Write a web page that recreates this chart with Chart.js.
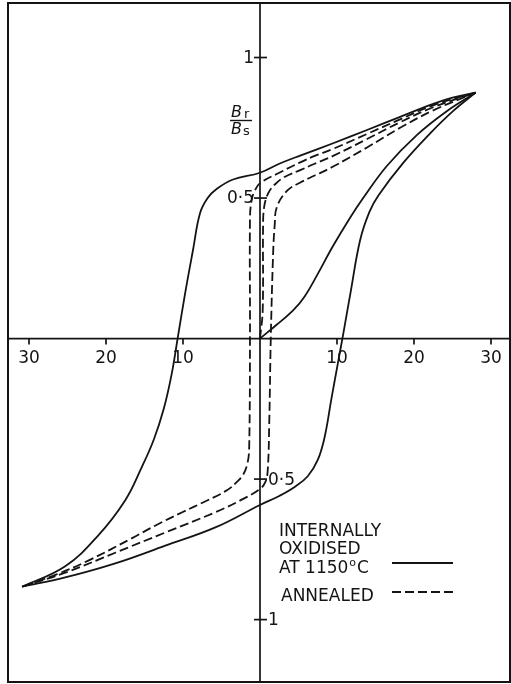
<!DOCTYPE html>
<html>
<head>
<meta charset="utf-8">
<script src="https://cdn.jsdelivr.net/npm/chart.js@4.4.1/dist/chart.umd.min.js"></script>
<style>
  html, body { margin: 0; padding: 0; background: #fff; }
  #wrap { width: 511px; height: 684px; }
</style>
</head>
<body>
<div id="wrap"><canvas id="loopChart"></canvas></div>
<script>
// internally oxidised at 1150 C (solid) - field H on x, Br/Bs on y
const oxUpperX = [28.0, 25.0, 22.5, 18.2, 13.9, 9.5, 5.3, 2.5, 0, -3.5, -5.6, -6.8, -7.8, -8.7, -9.7, -10.7, -11.5, -12.5, -13.8, -15.4, -17.5, -21.0, -25.3, -30.9];
const oxUpperY = [0.875, 0.857, 0.835, 0.789, 0.742, 0.695, 0.652, 0.622, 0.59, 0.566, 0.533, 0.5, 0.445, 0.315, 0.165, 0, -0.13, -0.25, -0.36, -0.46, -0.575, -0.70, -0.81, -0.883];

const oxLowerX = [-30.9, -25.3, -18.8, -12.3, -5.8, 0, 2.5, 4.5, 6.2, 7.5, 8.4, 9.3, 10.1, 10.9, 11.8, 13.0, 14.2, 15.4, 18.6, 22.1, 25.1, 28.0];
const oxLowerY = [-0.883, -0.85, -0.80, -0.737, -0.672, -0.592, -0.56, -0.528, -0.49, -0.432, -0.35, -0.21, -0.09, 0.03, 0.17, 0.35, 0.45, 0.51, 0.625, 0.73, 0.81, 0.875];

const oxInitialX = [0, 2.2, 4.3, 5.8, 7.4, 9.5, 11.7, 13.4, 16.5, 20.4, 24.3, 28.0];
const oxInitialY = [0, 0.05, 0.10, 0.15, 0.225, 0.33, 0.43, 0.50, 0.615, 0.725, 0.81, 0.875];

// annealed (dashed)
const anUpperX = [28.0, 22.5, 18.2, 13.9, 9.5, 7.1, 5.3, 2.5, 0, -0.7, -1.1, -1.3, -1.3, -1.4, -1.6, -2.2, -3.0, -4.3, -7.0, -10.1, -13.5, -16.6, -22.3, -26.5, -30.9];
const anUpperY = [0.875, 0.83, 0.78, 0.728, 0.675, 0.65, 0.628, 0.59, 0.553, 0.525, 0.49, 0.43, 0, -0.38, -0.44, -0.485, -0.51, -0.54, -0.578, -0.618, -0.664, -0.71, -0.79, -0.84, -0.883];

const anInitialX = [0, 0.35, 0.4, 0.55, 1.07, 2.0, 3.25, 5.3, 7.1, 9.5, 13.9, 18.2, 22.5, 28.0];
const anInitialY = [0, 0.1, 0.40, 0.47, 0.517, 0.55, 0.576, 0.60, 0.622, 0.65, 0.71, 0.77, 0.823, 0.875];

const anLowerX = [-30.9, -25.0, -18.8, -12.3, -5.8, -2.5, 0, 0.7, 1.0, 1.2, 1.4, 1.7, 1.9, 2.2, 3.6, 5.3, 7.1, 9.5, 13.9, 18.2, 22.5, 28.0];
const anLowerY = [-0.883, -0.83, -0.762, -0.69, -0.618, -0.575, -0.535, -0.51, -0.47, -0.3, 0, 0.3, 0.40, 0.469, 0.528, 0.556, 0.58, 0.612, 0.68, 0.75, 0.812, 0.875];

const xTicks = [-30, -20, -10, 10, 20, 30];
const xTickLabels = ["30", "20", "10", "10", "20", "30"];
const yTicks = [1, 0.5, -0.5, -1];
const yTickLabels = ["1", "0·5", "0·5", "1"];

const ink = "#141414";
const font = "'DejaVu Sans', sans-serif";

function toPoints(xs, ys) {
    return xs.map((x, i) => ({ x: x, y: ys[i] }));
}

function curve(xs, ys, dashed) {
    return {
        data: toPoints(xs, ys),
        showLine: true,
        borderColor: ink,
        borderWidth: 1.8,
        borderDash: dashed ? [9, 4] : [],
        pointRadius: 0,
        pointHoverRadius: 0,
        tension: 0.4,
        fill: false
    };
}

// axes through the origin, frame, labels and key drawn like the printed figure
const paperAxes = {
    id: "paperAxes",
    beforeDatasetsDraw(chart) {
        const { ctx, chartArea: a, scales: { x, y } } = chart;
        const x0 = x.getPixelForValue(0);
        const y0 = y.getPixelForValue(0);
        ctx.save();
        ctx.strokeStyle = ink;
        ctx.fillStyle = ink;
        ctx.lineWidth = 2;
        ctx.strokeRect(a.left, a.top, a.right - a.left, a.bottom - a.top);

        ctx.lineWidth = 1.7;
        ctx.beginPath();
        ctx.moveTo(a.left, y0); ctx.lineTo(a.right, y0);
        ctx.moveTo(x0, a.top); ctx.lineTo(x0, a.bottom);
        ctx.stroke();

        ctx.font = "17px " + font;
        ctx.textAlign = "center";
        ctx.textBaseline = "middle";
        xTicks.forEach((v, i) => {
            const px = x.getPixelForValue(v);
            ctx.beginPath(); ctx.moveTo(px, y0); ctx.lineTo(px, y0 + 6); ctx.stroke();
            ctx.fillText(xTickLabels[i], px, y0 + 20);
        });
        yTicks.forEach((v, i) => {
            const py = y.getPixelForValue(v);
            ctx.beginPath(); ctx.moveTo(x0 - 6, py); ctx.lineTo(x0 + 7, py); ctx.stroke();
            if (v > 0) {
                ctx.textAlign = "right";
                ctx.fillText(yTickLabels[i], x0 - 6, py + 1);
            } else {
                ctx.textAlign = "left";
                ctx.fillText(yTickLabels[i], x0 + 8, py + 1);
            }
        });

        // Br / Bs
        ctx.textAlign = "left";
        ctx.textBaseline = "alphabetic";
        ctx.font = "italic 16px " + font;
        ctx.fillText("B", 231, 117);
        ctx.fillText("B", 231, 134);
        ctx.font = "13px " + font;
        ctx.fillText("r", 244, 118);
        ctx.fillText("s", 243, 135);
        ctx.lineWidth = 1.4;
        ctx.beginPath(); ctx.moveTo(230, 120.5); ctx.lineTo(252, 120.5); ctx.stroke();
        ctx.restore();
    },
    afterDatasetsDraw(chart) {
        const { ctx } = chart;
        ctx.save();
        ctx.fillStyle = ink;
        ctx.strokeStyle = ink;
        ctx.textAlign = "left";
        ctx.textBaseline = "alphabetic";
        ctx.font = "17px " + font;
        ctx.fillText("INTERNALLY", 279, 536);
        ctx.fillText("OXIDISED", 279, 554);
        ctx.fillText("AT 1150", 279, 573);
        let w = ctx.measureText("AT 1150").width;
        ctx.font = "11px " + font;
        ctx.fillText("o", 280 + w, 566);
        let w2 = ctx.measureText("o").width;
        ctx.font = "17px " + font;
        ctx.fillText("C", 281 + w + w2, 573);
        ctx.fillText("ANNEALED", 281, 601);

        ctx.lineWidth = 1.8;
        ctx.beginPath(); ctx.moveTo(392, 563); ctx.lineTo(453, 563); ctx.stroke();
        ctx.setLineDash([9, 4]);
        ctx.beginPath(); ctx.moveTo(392, 592); ctx.lineTo(453, 592); ctx.stroke();
        ctx.restore();
    }
};

new Chart(document.getElementById("loopChart"), {
    type: "scatter",
    data: {
        datasets: [
            curve(oxUpperX, oxUpperY, false),
            curve(oxLowerX, oxLowerY, false),
            curve(oxInitialX, oxInitialY, false),
            curve(anUpperX, anUpperY, true),
            curve(anInitialX, anInitialY, true),
            curve(anLowerX, anLowerY, true)
        ]
    },
    options: {
        responsive: true,
        maintainAspectRatio: false,
        animation: false,
        events: [],
        layout: { padding: { left: 8, top: 3, right: 1, bottom: 2 } },
        plugins: { legend: { display: false }, tooltip: { enabled: false } },
        scales: {
            x: { type: "linear", display: false, min: -32.73, max: 32.47 },
            y: { type: "linear", display: false, min: -1.222, max: 1.194 }
        }
    },
    plugins: [paperAxes]
});
</script>
</body>
</html>
